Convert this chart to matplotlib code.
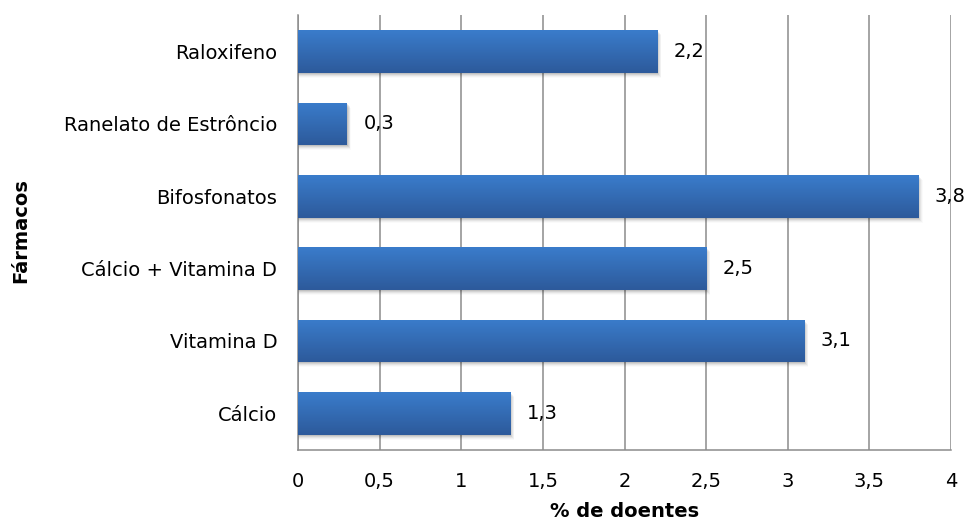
import numpy as np
import matplotlib
matplotlib.use("Agg")
import matplotlib.pyplot as plt
from matplotlib.colors import LinearSegmentedColormap
from matplotlib.patches import Rectangle

categories = ["Cálcio", "Vitamina D", "Cálcio + Vitamina D", "Bifosfonatos",
              "Ranelato de Estrôncio", "Raloxifeno"]
values = [1.3, 3.1, 2.5, 3.8, 0.3, 2.2]
xticks = [0, 0.5, 1, 1.5, 2, 2.5, 3, 3.5, 4]
xtick_labels = ["0", "0,5", "1", "1,5", "2", "2,5", "3", "3,5", "4"]

plt.rcParams["font.family"] = ["DejaVu Sans"]
FS = 14

fig = plt.figure(figsize=(9.73, 5.25), dpi=100)
ax = fig.add_axes([0.3063, 0.1438, 0.6711, 0.8270])

bar_h = 0.59
grad = LinearSegmentedColormap.from_list("bar", ["#2d5a9b", "#3a7ccb"])
gimg = np.linspace(0, 1, 64).reshape(-1, 1)

ypos = np.arange(len(categories))
for y, v in zip(ypos, values):
    # soft drop shadow below and to the right of each bar
    for k, a in enumerate([0.09, 0.07, 0.05, 0.035, 0.02]):
        dy = 0.015 + k * 0.014
        dx = 0.006 + k * 0.005
        ax.add_patch(Rectangle((0, y - bar_h / 2 - dy), v + dx, bar_h,
                               facecolor="black", alpha=a, edgecolor="none", zorder=2))
    bar = ax.barh(y, v, height=bar_h, color="#3469b3", edgecolor="none", zorder=3)[0]
    im = ax.imshow(gimg, cmap=grad, aspect="auto", origin="lower",
                   extent=(0, v, y - bar_h / 2, y + bar_h / 2), zorder=4)
    im.set_clip_path(bar)
    ax.text(v + 0.1, y, f"{v:.1f}".replace(".", ","), va="center", ha="left",
            fontsize=FS, color="black", zorder=5)

ax.set_xlim(0, 4)
ax.set_ylim(-0.5, len(categories) - 0.5)
ax.set_yticks(ypos)
ax.set_yticklabels(categories, fontsize=FS)
ax.set_xticks(xticks)
ax.set_xticklabels(xtick_labels, fontsize=FS)
ax.tick_params(axis="y", length=0, pad=15)
ax.tick_params(axis="x", length=0, pad=16)

ax.grid(axis="x", color="#8c8c8c", linewidth=1.1, zorder=0)
ax.set_axisbelow(True)
for s in ["top", "right"]:
    ax.spines[s].set_visible(False)
for s in ["left", "bottom"]:
    ax.spines[s].set_color("#8c8c8c")
    ax.spines[s].set_linewidth(1.1)

ax.set_xlabel("% de doentes", fontsize=FS, fontweight="bold", labelpad=8)
fig.text(0.021, 0.56, "Fármacos", rotation=90, fontsize=FS, fontweight="bold",
         va="center", ha="center")

fig.savefig("out.png", dpi=100)
